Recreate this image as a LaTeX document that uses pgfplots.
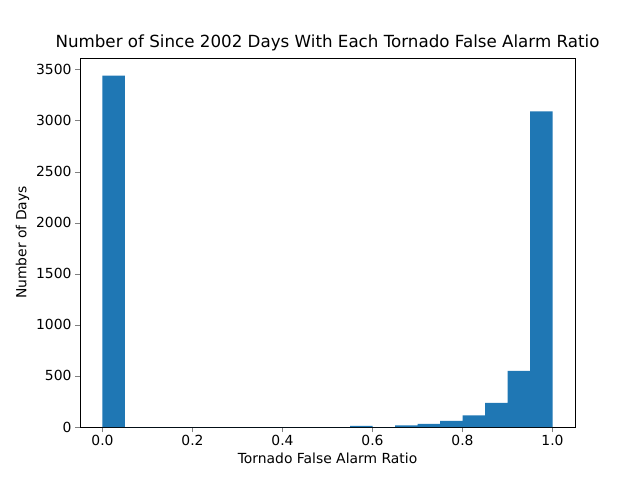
\documentclass[border=0pt]{standalone}
\usepackage{pgfplots}
\pgfplotsset{compat=1.18}
\usepackage{fontspec}
\setmainfont{DejaVu Sans}
\definecolor{mplblue}{HTML}{1F77B4}
\begin{document}
\begin{tikzpicture}
\path[use as bounding box] (-80bp,-53bp) rectangle (560bp,427bp);
\begin{axis}[
  at={(0,0)}, anchor=south west,
  width=495bp, height=369bp, scale only axis,
  xmin=-0.05, xmax=1.05, ymin=0, ymax=3612,
  xtick={0,0.2,0.4,0.6,0.8,1.0},
  xticklabels={0.0,0.2,0.4,0.6,0.8,1.0},
  ytick={0,500,1000,1500,2000,2500,3000,3500},
  scaled y ticks=false,
  /pgf/number format/assume math mode=true,
  /pgf/number format/1000 sep={},
  tick align=outside, tick pos=left,
  major tick length=5bp,
  ticklabel style={font=\fontsize{13.9bp}{16bp}\selectfont},
  label style={font=\fontsize{13.9bp}{16bp}\selectfont},
  xlabel={Tornado False Alarm Ratio},
  ylabel={Number of Days},
  title={Number of Since 2002 Days With Each Tornado False Alarm Ratio},
  title style={font=\fontsize{16.7bp}{19bp}\selectfont, yshift=-2bp},
]
\addplot[ybar interval, fill=mplblue, draw=none] coordinates {
(0.00,3440) (0.05,0) (0.10,0) (0.15,0) (0.20,0) (0.25,0) (0.30,0) (0.35,0)
(0.40,0) (0.45,0) (0.50,0) (0.55,10) (0.60,0) (0.65,15) (0.70,30) (0.75,60)
(0.80,115) (0.85,235) (0.90,550) (0.95,3090) (1.00,0)};
\end{axis}
\end{tikzpicture}
\end{document}
